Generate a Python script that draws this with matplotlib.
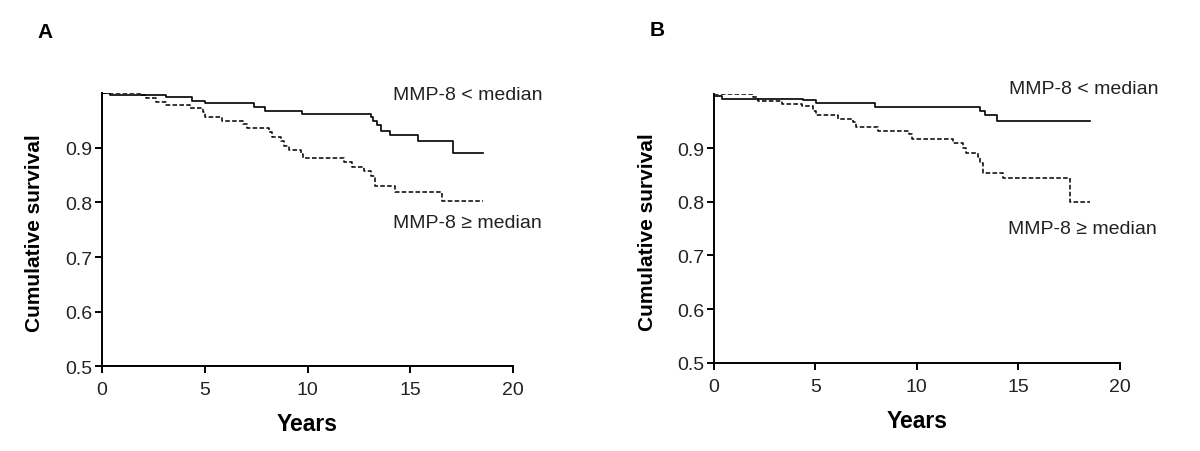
import matplotlib
matplotlib.use("Agg")
import matplotlib.pyplot as plt

plt.rcParams['font.family'] = ['Liberation Sans', 'DejaVu Sans']

# Panel A: Kaplan-Meier steps (years, cumulative survival)
a_low_t = [0, 0.39, 3.1, 4.39, 4.99, 7.41, 7.94, 9.75, 13.1, 13.2, 13.4, 13.6, 14.03, 15.37, 17.1, 18.55]
a_low_s = [1.0, 0.997, 0.994, 0.986, 0.982, 0.975, 0.968, 0.962, 0.956, 0.950, 0.942, 0.932, 0.923, 0.913, 0.891, 0.891]
a_high_t = [0, 1.92, 2.13, 2.65, 3.13, 4.26, 4.9, 4.99, 5.84, 6.84, 7.04, 8.14, 8.27, 8.7, 8.86, 9.1,
            9.67, 9.78, 11.77, 12.17, 12.74, 13.1, 13.27, 14.24, 16.56, 18.55]
a_high_s = [1.0, 0.997, 0.991, 0.985, 0.979, 0.973, 0.966, 0.956, 0.950, 0.944, 0.936, 0.929, 0.921, 0.913, 0.904, 0.897,
            0.889, 0.881, 0.874, 0.866, 0.858, 0.849, 0.831, 0.820, 0.803, 0.803]

# Panel B
b_low_t = [0, 0.38, 4.4, 5.02, 7.93, 13.1, 13.35, 13.93, 18.52]
b_low_s = [0.997, 0.992, 0.989, 0.984, 0.977, 0.969, 0.961, 0.951, 0.951]
b_high_t = [0, 1.94, 2.18, 3.34, 4.32, 4.9, 5.02, 6.12, 6.86, 7.02, 8.1, 9.62, 9.74, 11.79, 12.28, 12.45,
            13.02, 13.1, 13.27, 14.25, 17.54, 18.52]
b_high_s = [1.0, 0.995, 0.988, 0.983, 0.978, 0.969, 0.961, 0.955, 0.949, 0.940, 0.932, 0.926, 0.917, 0.909, 0.901, 0.891,
            0.883, 0.873, 0.853, 0.844, 0.800, 0.800]

y_ticks = [0.5, 0.6, 0.7, 0.8, 0.9]
x_ticks = [0, 5, 10, 15, 20]

fig = plt.figure(figsize=(12, 4.52), dpi=100)
ax_a = fig.add_axes([0.085, 0.188, 0.3425, 0.603])
ax_b = fig.add_axes([0.595, 0.195, 0.338, 0.594])


def draw_panel(ax, low_t, low_s, high_t, high_s, letter, letter_pos, low_pos, high_pos):
    ax.step(low_t, low_s, where='post', color='black', lw=1.2)
    ax.step(high_t, high_s, where='post', color='black', lw=1.1, linestyle=(0, (3, 1.5)))
    ax.set_xlim(0, 20)
    ax.set_ylim(0.5, 1.0)
    ax.set_xticks(x_ticks)
    ax.set_yticks(y_ticks)
    ax.set_yticklabels(['%.1f' % v for v in y_ticks])
    for s in ['top', 'right']:
        ax.spines[s].set_visible(False)
    for s in ['left', 'bottom']:
        ax.spines[s].set_linewidth(1.4)
    ax.tick_params(direction='out', length=5, width=1.4, labelsize=14, colors='black', labelcolor='#222222')
    ax.tick_params(axis='x', pad=6)
    ax.tick_params(axis='y', pad=2)
    ax.set_xlabel('Years', fontsize=16.5, fontweight='bold', labelpad=10)
    ax.set_ylabel('Cumulative survival', fontsize=15, fontweight='bold')
    ax.yaxis.set_label_coords(-0.141, 0.49)
    ax.text(low_pos[0], low_pos[1], 'MMP-8 < median', transform=fig.transFigure, fontsize=14,
            ha='left', va='center', color='#222222')
    ax.text(high_pos[0], high_pos[1], 'MMP-8 \u2265 median', transform=fig.transFigure, fontsize=14,
            ha='left', va='center', color='#222222')
    fig.text(letter_pos[0], letter_pos[1], letter, fontsize=15, fontweight='bold', ha='left', va='center')


draw_panel(ax_a, a_low_t, a_low_s, a_high_t, a_high_s, 'A', (0.031, 0.929),
           (393 / 1200, 1 - 95 / 452), (393 / 1200, 1 - 223 / 452))
draw_panel(ax_b, b_low_t, b_low_s, b_high_t, b_high_s, 'B', (0.541, 0.933),
           (1009 / 1200, 1 - 89 / 452), (1008 / 1200, 1 - 230 / 452))

fig.savefig('out.png', dpi=100, facecolor='white')
